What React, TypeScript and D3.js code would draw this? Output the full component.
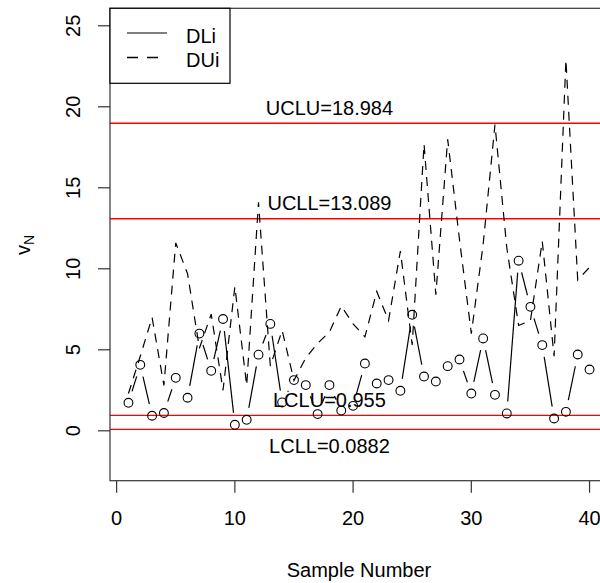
import React, { useRef, useEffect } from 'react';
import * as d3 from 'd3';

const samples = d3.range(1, 41);
const dli = [1.73, 4.07, 0.93, 1.1, 3.27, 2.04, 6.0, 3.7, 6.9, 0.37, 0.68, 4.7, 6.6, 1.75, 3.13, 2.82, 1.03, 2.82, 1.25, 1.54,
  4.15, 2.92, 3.13, 2.47, 7.16, 3.35, 3.04, 3.99, 4.4, 2.3, 5.7, 2.22, 1.07, 10.5, 7.65, 5.29, 0.76, 1.17, 4.71, 3.78];
const dui = [2.3, 4.6, 7.0, 2.8, 11.6, 9.7, 5.1, 7.2, 2.5, 8.9, 2.8, 14.1, 4.0, 6.2, 3.1, 4.5, 5.4, 6.1, 7.7, 6.6,
  5.8, 8.6, 6.8, 11.1, 5.3, 17.7, 8.4, 18.0, 11.8, 6.0, 11.5, 18.9, 11.3, 6.5, 6.8, 11.7, 4.6, 22.9, 9.3, 10.1];
const limits = [
  { name: 'UCLU', value: 18.984, label: 'UCLU=18.984', off: 1 },
  { name: 'UCLL', value: 13.089, label: 'UCLL=13.089', off: 1 },
  { name: 'LCLU', value: 0.955, label: 'LCLU=0.955', off: 1 },
  { name: 'LCLL', value: 0.0882, label: 'LCLL=0.0882', off: -1 },
];
const xTicks = [0, 10, 20, 30, 40];
const yTicks = [0, 5, 10, 15, 20, 25];

function App() {
  const svgRef = useRef<SVGSVGElement>(null);

  useEffect(() => {
    const svg = d3.select(svgRef.current);
    svg.selectAll('*').remove();

    const left = 110, right = 608, top = 8.3, bottom = 480.7;
    const font = 'Liberation Sans, Arial, sans-serif';

    const x = d3.scaleLinear().domain([-0.56, 41.56]).range([left, right]);
    const y = d3.scaleLinear().domain([-3.08, 26.08]).range([bottom, top]);

    svg.attr('font-family', font);

    // control limits
    limits.forEach(l => {
      svg.append('line')
        .attr('x1', left).attr('x2', right)
        .attr('y1', y(l.value)).attr('y2', y(l.value))
        .attr('stroke', '#ff0000').attr('stroke-width', 1.4);
      svg.append('text')
        .attr('x', x(18)).attr('y', y(l.value + l.off) + 7.5)
        .attr('text-anchor', 'middle').attr('font-size', 20)
        .text(l.label);
    });

    // DUi dashed
    const line = d3.line<number>().x((d, i) => x(samples[i])).y(d => y(d));
    svg.append('path')
      .attr('d', line(dui))
      .attr('fill', 'none').attr('stroke', '#000').attr('stroke-width', 1.2)
      .attr('stroke-dasharray', '9,7');

    // DLi type "b": segments with gaps + open circles
    const gap = 12;
    const segs = svg.append('g');
    for (let i = 0; i < dli.length - 1; i++) {
      const x1 = x(samples[i]), y1 = y(dli[i]);
      const x2 = x(samples[i + 1]), y2 = y(dli[i + 1]);
      const len = Math.hypot(x2 - x1, y2 - y1);
      if (len <= 2 * gap) continue;
      const ux = (x2 - x1) / len, uy = (y2 - y1) / len;
      segs.append('line')
        .attr('x1', x1 + ux * gap).attr('y1', y1 + uy * gap)
        .attr('x2', x2 - ux * gap).attr('y2', y2 - uy * gap)
        .attr('stroke', '#000').attr('stroke-width', 1.2);
    }
    svg.append('g')
      .selectAll('circle')
      .data(dli)
      .join('circle')
      .attr('cx', (d, i) => x(samples[i]))
      .attr('cy', d => y(d))
      .attr('r', 4.4)
      .attr('fill', 'none').attr('stroke', '#000').attr('stroke-width', 1.1);

    // box
    svg.append('rect')
      .attr('x', left).attr('y', top)
      .attr('width', right - left).attr('height', bottom - top)
      .attr('fill', 'none').attr('stroke', '#333').attr('stroke-width', 1.2);

    // x axis
    const xa = svg.append('g');
    xTicks.forEach(t => {
      xa.append('line').attr('x1', x(t)).attr('x2', x(t)).attr('y1', bottom).attr('y2', bottom + 12)
        .attr('stroke', '#333').attr('stroke-width', 1.2);
      xa.append('text').attr('x', x(t)).attr('y', 525).attr('text-anchor', 'middle')
        .attr('font-size', 20).text(t);
    });
    svg.append('text').attr('x', (left + right) / 2).attr('y', 577).attr('text-anchor', 'middle')
      .attr('font-size', 20).text('Sample Number');

    // y axis
    const ya = svg.append('g');
    yTicks.forEach(t => {
      ya.append('line').attr('x1', left - 12).attr('x2', left).attr('y1', y(t)).attr('y2', y(t))
        .attr('stroke', '#333').attr('stroke-width', 1.2);
      ya.append('text').attr('transform', `translate(80,${y(t)}) rotate(-90)`)
        .attr('text-anchor', 'middle').attr('font-size', 20).text(t);
    });
    const yl = svg.append('text').attr('transform', 'translate(30,245) rotate(-90)')
      .attr('text-anchor', 'middle').attr('font-size', 20);
    yl.append('tspan').text('v');
    yl.append('tspan').attr('dy', 4).attr('font-size', 14).text('N');

    // legend
    const lg = svg.append('g');
    lg.append('rect').attr('x', left).attr('y', top).attr('width', 120).attr('height', 75)
      .attr('fill', '#fff').attr('stroke', '#000').attr('stroke-width', 1.2);
    lg.append('line').attr('x1', 127).attr('x2', 167).attr('y1', 33).attr('y2', 33)
      .attr('stroke', '#000').attr('stroke-width', 1.2);
    lg.append('line').attr('x1', 127).attr('x2', 167).attr('y1', 57.5).attr('y2', 57.5)
      .attr('stroke', '#000').attr('stroke-width', 1.6).attr('stroke-dasharray', '11,9');
    lg.append('text').attr('x', 186).attr('y', 43).attr('font-size', 20).text('DLi');
    lg.append('text').attr('x', 186).attr('y', 67).attr('font-size', 20).text('DUi');
  }, []);

  return (
    <svg ref={svgRef} width={600} height={583}
      style={{ position: 'absolute', left: 0, top: 0, display: 'block', background: '#fff' }} />
  );
}

export default App;
